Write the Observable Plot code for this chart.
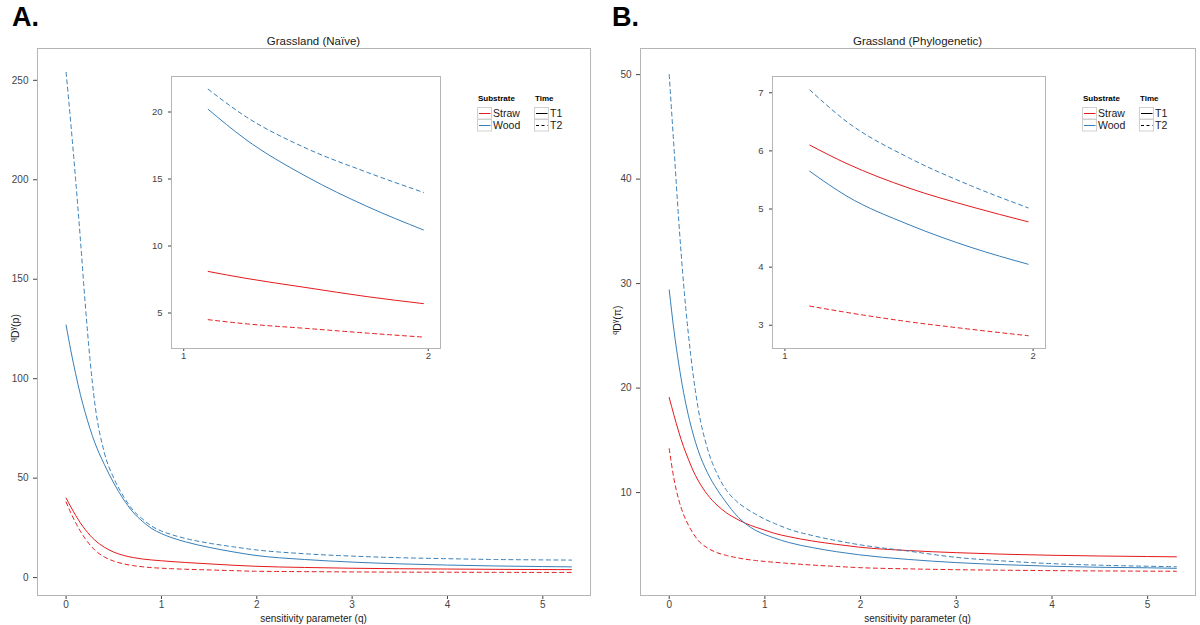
<!DOCTYPE html>
<html><head><meta charset="utf-8">
<script src="https://cdn.jsdelivr.net/npm/d3@7"></script>
<script src="https://cdn.jsdelivr.net/npm/@observablehq/plot@0.6"></script>
<style>
body{margin:0;background:#fff;font-family:"Liberation Sans",Arial,sans-serif;}
#wrap{position:relative;width:1200px;height:625px;overflow:hidden;background:#fff;}
#wrap > svg, #wrap > figure{position:absolute;margin:0;}
</style></head>
<body><div id="wrap"></div>
<script>
// ---- data ----
const substrates = ["Straw", "Wood"];
const times = ["T1", "T2"];
const q = [0,0.05,0.1,0.15,0.2,0.25,0.3,0.4,0.5,0.6,0.7,0.8,0.9,1.0,1.1,1.25,1.5,1.75,1.98,2.5,3.0,3.5,4.0,4.5,5.0,5.3];
const naiveStrawT1 = [40,35.5,31.3,27.5,24.2,21.3,18.9,15.3,12.8,11.2,10.1,9.35,8.85,8.45,8.1,7.6,6.9,6.22,5.7,5.1,4.7,4.45,4.3,4.15,4.05,4.0];
const naiveStrawT2 = [38,32.5,27.6,23.3,19.6,16.5,13.9,10.4,8.3,6.95,6.05,5.45,5.0,4.72,4.5,4.2,3.85,3.5,3.2,3.0,2.85,2.75,2.7,2.65,2.6,2.6];
const naiveWoodT1 = [127,114,102.5,92,83,75,68,57,47.5,39.5,33,28.3,24.6,22.1,20.2,18.0,15.2,12.95,11.2,9.1,7.8,6.9,6.3,5.85,5.55,5.4];
const naiveWoodT2 = [254,228,200,170,138,110,88,63,50,41,34,29.5,25.8,23.4,21.7,19.7,17.3,15.5,14.0,12.0,10.8,10.0,9.5,9.1,8.9,8.8];
const phyloStrawT1 = [19.1,17.4,15.8,14.4,13.2,12.1,11.2,9.8,8.8,8.05,7.5,7.05,6.7,6.4,6.1,5.78,5.36,5.04,4.78,4.45,4.25,4.1,4.0,3.93,3.88,3.85];
const phyloStrawT2 = [14.2,11.3,9.3,7.9,6.9,6.1,5.45,4.7,4.25,3.98,3.78,3.62,3.5,3.41,3.33,3.22,3.06,2.93,2.82,2.7,2.62,2.57,2.53,2.5,2.48,2.47];
const phyloWoodT1 = [29.4,25.5,22.3,19.6,17.4,15.6,14.1,11.9,10.3,9.0,7.85,7.0,6.4,5.98,5.65,5.22,4.73,4.34,4.05,3.6,3.3,3.1,2.95,2.85,2.8,2.75];
const phyloWoodT2 = [50,43.0,36.0,30.0,25.2,21.3,18.2,14.2,11.8,10.2,9.2,8.5,7.95,7.45,7.05,6.5,5.88,5.4,5.02,4.4,3.8,3.45,3.2,3.05,2.95,2.9];
const xTicks = [0,1,2,3,4,5];
const naiveYTicks = [0,50,100,150,200,250];
const phyloYTicks = [10,20,30,40,50];
const insetXTicks = [1,2];
const naiveInsetYTicks = [5,10,15,20];
const phyloInsetYTicks = [3,4,5,6,7];
const colors = ["#E41A1C", "#377EB8"];

function rowsOf(series) {
  const rows = [];
  for (const [substrate, time, vals] of series)
    vals.forEach((v, i) => rows.push({q: q[i], v, substrate, time}));
  return rows;
}
const naiveRows = rowsOf([["Straw","T1",naiveStrawT1],["Straw","T2",naiveStrawT2],["Wood","T1",naiveWoodT1],["Wood","T2",naiveWoodT2]]);
const phyloRows = rowsOf([["Straw","T1",phyloStrawT1],["Straw","T2",phyloStrawT2],["Wood","T1",phyloWoodT1],["Wood","T2",phyloWoodT2]]);

const wrap = document.getElementById("wrap");
const FONT = "'Liberation Sans', Arial, sans-serif";

function lineMarks(rows) {
  return [
    Plot.line(rows.filter(d => d.time === "T1"), {x: "q", y: "v", z: "substrate", stroke: "substrate", strokeWidth: 1, curve: "monotone-x"}),
    Plot.line(rows.filter(d => d.time === "T2"), {x: "q", y: "v", z: "substrate", stroke: "substrate", strokeWidth: 1, strokeDasharray: "4,3.5", curve: "monotone-x"})
  ];
}

function mainPanel(rows, left, mL, mR, yDomain, yTicks) {
  const svg = Plot.plot({
    width: 600, height: 625,
    marginLeft: mL, marginRight: mR, marginTop: 48, marginBottom: 30,
    style: {fontFamily: FONT, fontSize: "10px", color: "#444", background: "transparent", overflow: "visible"},
    x: {domain: [-0.3, 5.5], ticks: xTicks, tickSize: 4, tickPadding: 1, label: null, tickFormat: d => d},
    y: {domain: yDomain, ticks: yTicks, tickSize: 4, label: null, tickFormat: d => d},
    color: {domain: substrates, range: colors},
    marks: [Plot.frame({stroke: "#b5b5b5"}), ...lineMarks(rows)]
  });
  svg.style.left = left + "px";
  svg.style.top = "0px";
  wrap.appendChild(svg);
}

function insetPanel(rows, left, frameW, yDomain, yTicks) {
  const inset = rows.filter(d => d.q >= 1.1 && d.q <= 2);
  const svg = Plot.plot({
    width: 30 + frameW + 5, height: 298,
    marginLeft: 30, marginRight: 5, marginTop: 10, marginBottom: 16,
    style: {fontFamily: FONT, fontSize: "9.5px", color: "#444", background: "transparent"},
    x: {domain: [0.95, 2.05], ticks: insetXTicks, tickSize: 3, tickPadding: 1, label: null, tickFormat: d => d},
    y: {domain: yDomain, ticks: yTicks, tickSize: 3, label: null, tickFormat: d => d},
    color: {domain: substrates, range: colors},
    marks: [Plot.frame({stroke: "#b5b5b5", fill: "#fff"}), ...lineMarks(inset)]
  });
  svg.style.left = left + "px";
  svg.style.top = "66px";
  wrap.appendChild(svg);
}

mainPanel(naiveRows, 0, 37, 10, [-9, 266], naiveYTicks);
mainPanel(phyloRows, 600, 40, 5, [0.15, 52.5], phyloYTicks);
insetPanel(naiveRows, 141, 269, [2.35, 22.65], naiveInsetYTicks);
insetPanel(phyloRows, 742, 273, [2.6, 7.28], phyloInsetYTicks);

// ---- annotations: titles, panel letters, axis labels, legends ----
const ov = d3.create("svg").attr("width", 1200).attr("height", 625)
  .style("left", "0px").style("top", "0px").style("pointer-events", "none")
  .style("font-family", FONT);

function annot(x0, letter, title, frameL, frameR, yLabelX, yLabelY, yVar) {
  const cx = (frameL + frameR) / 2;
  ov.append("text").attr("x", x0 + 12).attr("y", 26).attr("font-size", 27).attr("font-weight", "bold").attr("fill", "#000").text(letter);
  ov.append("text").attr("x", cx).attr("y", 45).attr("text-anchor", "middle").attr("font-size", 11.5).attr("fill", "#1a1a1a").text(title);
  ov.append("text").attr("x", cx).attr("y", 622).attr("text-anchor", "middle").attr("font-size", 10).attr("fill", "#1a1a1a").text("sensitivity parameter (q)");
  const t = ov.append("text").attr("transform", `translate(${yLabelX},${yLabelY}) rotate(-90)`).attr("text-anchor", "middle").attr("font-size", 10.5).attr("fill", "#1a1a1a");
  t.append("tspan").attr("font-size", 7).attr("dy", -4).text("q");
  t.append("tspan").attr("dy", 4).text("D");
  t.append("tspan").attr("font-size", 7).attr("dy", -4).text("γ");
  t.append("tspan").attr("dy", 4).text("(" + yVar + ")");

  // legend
  const lx = frameR - 113, ly = 96;
  const g = ov.append("g").attr("transform", `translate(${lx},${ly})`);
  g.append("text").attr("x", 1).attr("y", 5).attr("font-size", 8).attr("font-weight", "bold").attr("fill", "#000").text("Substrate");
  substrates.forEach((s, i) => {
    const y = 11 + i * 12;
    g.append("rect").attr("x", 0.5).attr("y", y + 0.5).attr("width", 14).attr("height", 11.5).attr("fill", "#fff").attr("stroke", "#d0d0d0").attr("stroke-width", 1);
    g.append("line").attr("x1", 2).attr("x2", 13.5).attr("y1", y + 6.5).attr("y2", y + 6.5).attr("stroke", colors[i]).attr("stroke-width", 1);
    g.append("text").attr("x", 16).attr("y", y + 10).attr("font-size", 10.5).attr("fill", "#1a1a1a").text(s);
  });
  g.append("text").attr("x", 58).attr("y", 5).attr("font-size", 8).attr("font-weight", "bold").attr("fill", "#000").text("Time");
  times.forEach((s, i) => {
    const y = 11 + i * 12;
    g.append("rect").attr("x", 57.5).attr("y", y + 0.5).attr("width", 14).attr("height", 11.5).attr("fill", "#fff").attr("stroke", "#d0d0d0").attr("stroke-width", 1);
    g.append("line").attr("x1", 59).attr("x2", 70.5).attr("y1", y + 6.5).attr("y2", y + 6.5).attr("stroke", "#000").attr("stroke-width", 1).attr("stroke-dasharray", i ? "3,2.5" : null);
    g.append("text").attr("x", 73).attr("y", y + 10).attr("font-size", 10.5).attr("fill", "#1a1a1a").text(s);
  });
}
annot(0, "A.", "Grassland (Naïve)", 37, 590, 19, 328, "p");
annot(600, "B.", "Grassland (Phylogenetic)", 640, 1195, 621, 320, "π");
wrap.appendChild(ov.node());
</script>
</body></html>
